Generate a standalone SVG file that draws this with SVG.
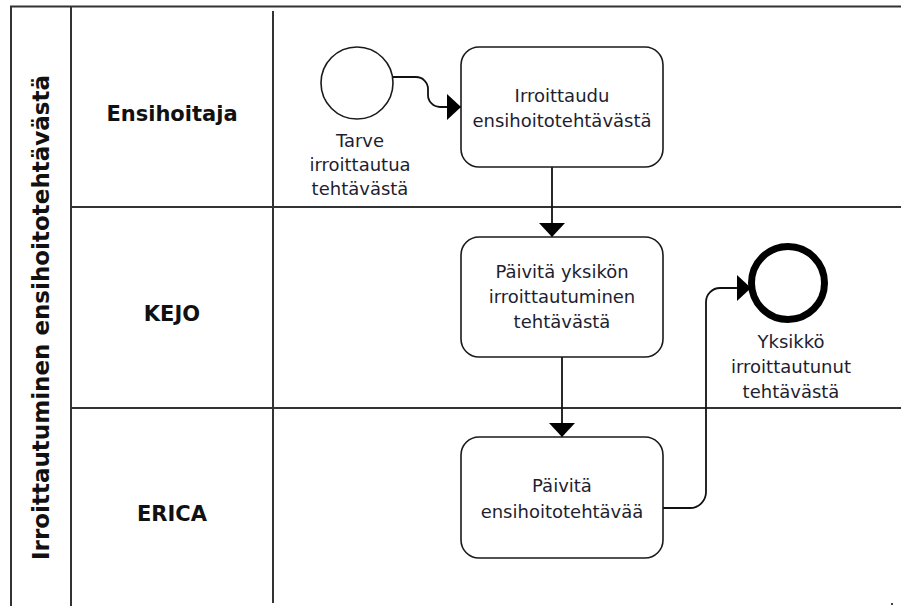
<svg xmlns="http://www.w3.org/2000/svg" width="901" height="606" viewBox="0 0 901 606">
<defs>
<style>
.frame{stroke:#333;stroke-width:2;fill:none}
.task{fill:#fff;stroke:#1a1a1a;stroke-width:1.6}
.conn{fill:none;stroke:#111;stroke-width:1.8}
.lbl{font-family:"DejaVu Sans",Verdana,sans-serif;font-size:18px;fill:#1e1e30;text-anchor:middle}
.lane{font-family:"DejaVu Sans",Verdana,sans-serif;font-size:21px;font-weight:bold;fill:#111;text-anchor:middle}
.title{font-family:"DejaVu Sans",Verdana,sans-serif;font-size:23px;font-weight:bold;fill:#111;text-anchor:middle}
</style>
<marker id="arr" viewBox="0 0 14 26" refX="14" refY="13" markerWidth="14" markerHeight="26" markerUnits="userSpaceOnUse" orient="auto">
<path d="M0,0 L14,13 L0,26 Z" fill="#000"/>
</marker>
</defs>
<rect width="901" height="606" fill="#fff"/>
<g id="pool">
<path class="frame" d="M11,606 V6.5 H901 M71,6.5 V606 M71,207 H901 M71,408 H901 M273,11 V603"/>
<text class="title" transform="translate(49,317.5) rotate(-90)">Irroittautuminen ensihoitotehtävästä</text>
</g>
<g id="lane-ensihoitaja"><text class="lane" x="172" y="121">Ensihoitaja</text></g>
<g id="lane-kejo"><text class="lane" x="172" y="321">KEJO</text></g>
<g id="lane-erica"><text class="lane" x="172" y="521">ERICA</text></g>
<g id="connectors">
<path class="conn" d="M393,77 H416 A12,12 0 0 1 428,89 V95 A12,12 0 0 0 440,107 H461" marker-end="url(#arr)"/>
<path class="conn" d="M552,167 V237" marker-end="url(#arr)"/>
<path class="conn" d="M562,357 V437" marker-end="url(#arr)"/>
<path class="conn" d="M663,508 H690 A16,16 0 0 0 706,492 V302 A14,14 0 0 1 720,288 H751" marker-end="url(#arr)"/>
</g>
<g id="start">
<circle cx="357" cy="83" r="36" fill="#fff" stroke="#1a1a1a" stroke-width="1.6"/>
<text class="lbl" x="360" y="147">Tarve</text>
<text class="lbl" x="360" y="171">irroittautua</text>
<text class="lbl" x="360" y="195">tehtävästä</text>
</g>
<g id="task1">
<rect class="task" x="461" y="47" width="202" height="120" rx="18"/>
<text class="lbl" x="562" y="102">Irroittaudu</text>
<text class="lbl" x="562" y="127">ensihoitotehtävästä</text>
</g>
<g id="task2">
<rect class="task" x="461" y="237" width="202" height="120" rx="18"/>
<text class="lbl" x="562" y="278">Päivitä yksikön</text>
<text class="lbl" x="562" y="303">irroittautuminen</text>
<text class="lbl" x="562" y="328">tehtävästä</text>
</g>
<g id="task3">
<rect class="task" x="461" y="437" width="202" height="121" rx="18"/>
<text class="lbl" x="562" y="492">Päivitä</text>
<text class="lbl" x="562" y="518">ensihoitotehtävää</text>
</g>
<g id="end">
<circle cx="788" cy="283" r="36.5" fill="#fff" stroke="#000" stroke-width="7"/>
<text class="lbl" x="791" y="348">Yksikkö</text>
<text class="lbl" x="791" y="373">irroittautunut</text>
<text class="lbl" x="791" y="398">tehtävästä</text>
</g>
<rect x="891" y="603" width="2" height="2" fill="#444"/>
</svg>
